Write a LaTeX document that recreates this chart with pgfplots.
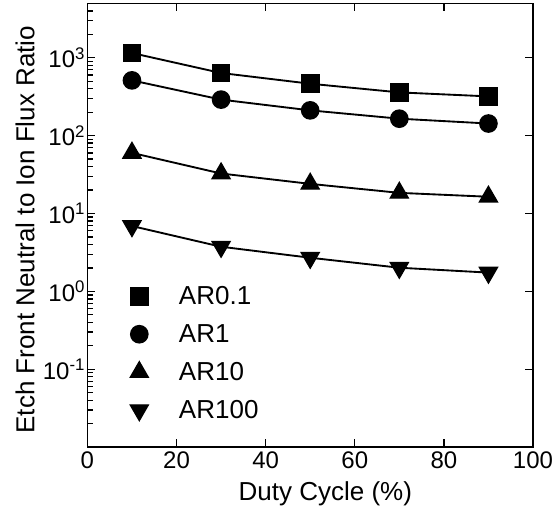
\documentclass[border=0pt]{standalone}
\usepackage{fontspec}
\setmainfont{Liberation Sans}
\usepackage{pgfplots}
\pgfplotsset{compat=1.18}

\begin{document}
\begin{tikzpicture}
\begin{axis}[
  name=main,
  scale only axis,
  width=334.2pt, height=332.8pt,
  xmin=0, xmax=100, ymode=log, ymin=0.01, ymax=5000,
  xtick={0,20,40,60,80,100},
  ytick={0.1,1,10,100,1000},
  yticklabels={10\textsuperscript{-1},10\textsuperscript{0},10\textsuperscript{1},10\textsuperscript{2},10\textsuperscript{3}},
  minor ytick={0.02,0.03,0.04,0.05,0.06,0.07,0.08,0.09,
               0.2,0.3,0.4,0.5,0.6,0.7,0.8,0.9,
               2,3,4,5,6,7,8,9,
               20,30,40,50,60,70,80,90,
               200,300,400,500,600,700,800,900,
               2000,3000,4000},
  tick align=inside,
  xtick pos=both,
  ytick pos=left,
  major tick length=6pt, minor tick length=4pt,
  axis line style={line width=1.1pt},
  every tick/.style={black, line width=1pt},
  tick label style={font=\fontsize{18}{20}\selectfont},
  xticklabel style={/pgf/number format/assume math mode=true},
  yticklabel style={inner sep=1.5pt},
  xlabel={Duty Cycle (\%)},
  ylabel={Etch Front Neutral to Ion Flux Ratio},
  every axis x label/.style={at={(axis description cs:0.534,-0.106)}, anchor=center, font=\fontsize{19.5}{22}\selectfont},
  every axis y label/.style={at={(axis description cs:-0.14,0.49)}, anchor=center, rotate=90, font=\fontsize{19.5}{22}\selectfont},
  legend cell align=left,
  legend image code/.code={\draw[#1] plot[only marks] coordinates {(0pt,0pt)};},
  legend style={at={(axis description cs:0.0867,0.372)}, anchor=north west,
    draw=none, fill=none, font=\fontsize{19.5}{22}\selectfont,
    row sep=11.4pt, column sep=22pt,
    nodes={inner sep=1pt}},
]
\addplot[black, line width=1.4pt, mark=square*, mark size=6.5pt, mark options={solid, line width=1pt}]
  coordinates {(10,1150) (30,637) (50,464) (70,359) (90,319)};
\addlegendentry{AR0.1}
\addplot[black, line width=1.4pt, mark=*, mark size=6.5pt, mark options={solid, line width=1pt}]
  coordinates {(10,512) (30,290) (50,211) (70,165) (90,143)};
\addlegendentry{AR1}
\addplot[black, line width=1.4pt, mark=triangle*, mark size=7.8pt, mark options={solid, line width=1pt}]
  coordinates {(10,60) (30,32.6) (50,24) (70,18.4) (90,16.4)};
\addlegendentry{AR10}
\addplot[black, line width=1.4pt, mark=triangle*, mark size=7.8pt, mark options={solid, line width=1pt, rotate=180}]
  coordinates {(10,6.9) (30,3.74) (50,2.7) (70,2.01) (90,1.74)};
\addlegendentry{AR100}
\end{axis}
\begin{axis}[
  scale only axis,
  width=334.2pt, height=332.8pt,
  xmin=0, xmax=100, ymode=log, ymin=0.01, ymax=5000,
  hide x axis,
  axis y line*=right,
  ytick={0.1,1,10,100,1000},
  yticklabels={},
  yminorticks=false,
  minor ytick={},
  tick align=inside,
  major tick length=6pt,
  axis line style={line width=1.1pt},
  every tick/.style={black, line width=1pt},
]
\end{axis}
\path (main.south west) ++(-65.55pt,-51.75pt) coordinate (bbA);
\path (main.north east) ++(20.25pt,2.5pt) coordinate (bbB);
\path (bbA) rectangle (bbB);
\end{tikzpicture}
\end{document}
